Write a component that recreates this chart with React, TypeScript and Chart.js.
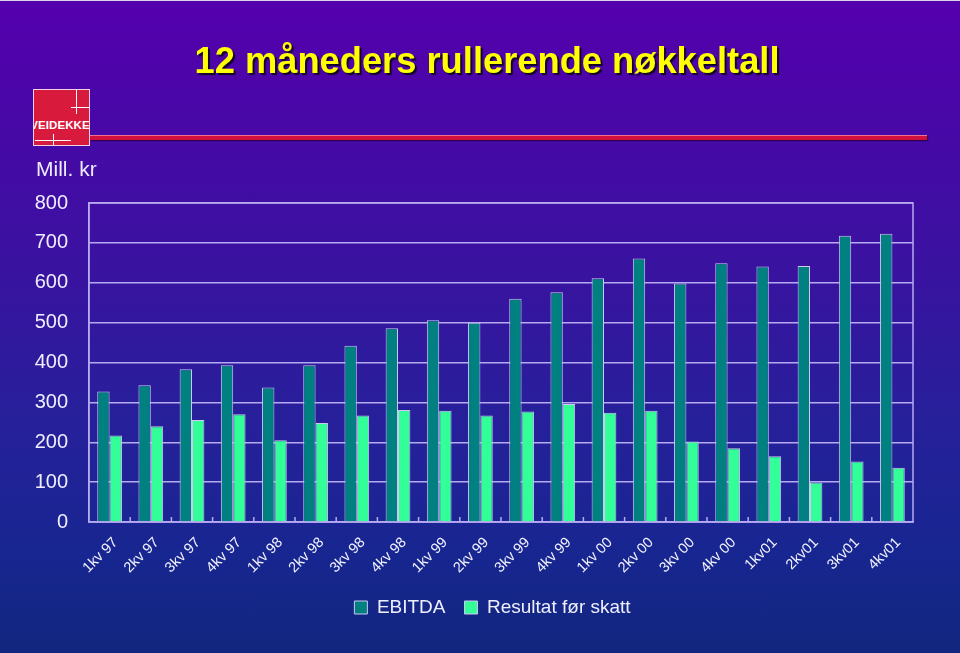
import React, { useEffect, useRef } from "react";
import { Chart, registerables } from "chart.js";

Chart.register(...registerables);

const categories = [
  "1kv 97", "2kv 97", "3kv 97", "4kv 97",
  "1kv 98", "2kv 98", "3kv 98", "4kv 98",
  "1kv 99", "2kv 99", "3kv 99", "4kv 99",
  "1kv 00", "2kv 00", "3kv 00", "4kv 00",
  "1kv01", "2kv01", "3kv01", "4kv01",
];
const ebitda = [327, 343, 383, 393, 337, 393, 442, 486, 506, 500, 560, 576, 611, 661, 598, 649, 641, 642, 718, 723];
const resultat = [217, 240, 256, 270, 205, 248, 267, 281, 279, 267, 277, 296, 274, 279, 202, 185, 165, 99, 152, 136];
const yTicks = [0, 100, 200, 300, 400, 500, 600, 700, 800];
const seriesNames = ["EBITDA", "Resultat før skatt"];

const FONT = 'Arial, "Liberation Sans", sans-serif';
const GRID = "#b6aaf0";

const framePlugin = {
  id: "frame",
  beforeDatasetsDraw(chart: any) {
    const { ctx, chartArea } = chart;
    const xs = chart.scales.x;
    ctx.save();
    ctx.strokeStyle = GRID;
    ctx.lineWidth = 1.5;
    ctx.strokeRect(chartArea.left, chartArea.top, chartArea.right - chartArea.left, chartArea.bottom - chartArea.top);
    const n = categories.length;
    for (let i = 1; i < n; i++) {
      const x = (xs.getPixelForValue(i - 1) + xs.getPixelForValue(i)) / 2;
      ctx.beginPath();
      ctx.moveTo(x, chartArea.bottom);
      ctx.lineTo(x, chartArea.bottom - 5);
      ctx.stroke();
    }
    ctx.restore();
  },
};

const legendShiftPlugin = {
  id: "legendShift",
  afterLayout(chart: any) {
    const lg = chart.legend;
    if (lg) {
      lg.left += 36;
      lg.right += 36;
    }
  },
};

export default function App() {
  const ref = useRef<HTMLCanvasElement | null>(null);
  useEffect(() => {
    document.body.style.margin = "0";
    const chart = new Chart(ref.current as HTMLCanvasElement, {
      type: "bar",
      data: {
        labels: categories,
        datasets: [
          {
            label: seriesNames[0],
            data: ebitda,
            backgroundColor: "#008080",
            borderColor: "#cfc6f2",
            borderWidth: 1,
            categoryPercentage: 0.6,
            barPercentage: 1,
          },
          {
            label: seriesNames[1],
            data: resultat,
            backgroundColor: "#33ff99",
            borderColor: "#cfc6f2",
            borderWidth: 1,
            categoryPercentage: 0.6,
            barPercentage: 1,
          },
        ],
      },
      options: {
        responsive: false,
        animation: false,
        layout: { padding: { left: 0, right: 47, top: 202, bottom: 27 } },
        plugins: {
          title: { display: false },
          tooltip: { enabled: false },
          legend: {
            position: "bottom",
            labels: {
              color: "#eef0ff",
              font: { family: FONT, size: 19 },
              boxWidth: 13,
              boxHeight: 13,
              padding: 19,
            },
          },
        },
        scales: {
          x: {
            grid: { display: false },
            border: { display: true, color: GRID, width: 1.5 },
            ticks: {
              color: "#f2f2ff",
              font: { family: FONT, size: 14.5 },
              maxRotation: 45,
              minRotation: 45,
              padding: 4,
              labelOffset: 6,
              autoSkip: false,
            },
            afterFit: (s: any) => {
              s.height = 57;
            },
          },
          y: {
            min: 0,
            max: 800,
            afterBuildTicks: (s: any) => {
              s.ticks = yTicks.map((v) => ({ value: v }));
            },
            grid: { color: GRID, lineWidth: 1.5, drawTicks: false },
            border: { display: true, color: GRID, width: 1.5 },
            ticks: {
              color: "#eeeeff",
              font: { family: FONT, size: 20 },
              padding: 21,
            },
            afterFit: (s: any) => {
              s.width = 89;
            },
          },
        },
      },
      plugins: [framePlugin, legendShiftPlugin],
    } as any);
    return () => chart.destroy();
  }, []);

  return (
    <div
      style={{
        position: "absolute",
        left: 0,
        top: 0,
        width: 960,
        height: 653,
        overflow: "hidden",
        background: "linear-gradient(180deg, #5500ad 0%, #4a06a8 15%, #3a12a0 40%, #26209a 65%, #172690 85%, #12267e 100%)",
        borderTop: "1px solid #d8d8e8",
        boxSizing: "border-box",
        fontFamily: FONT,
      }}
    >
      <canvas ref={ref} width={960} height={653} style={{ position: "absolute", left: 0, top: 0 }} />
      <div
        style={{
          position: "absolute",
          left: 0,
          top: 42,
          width: 974,
          textAlign: "center",
          fontSize: 36.3,
          lineHeight: "36px",
          fontWeight: "bold",
          color: "#ffff00",
          textShadow: "2px 2px 1px #120626",
          whiteSpace: "nowrap",
        }}
      >
        12 måneders rullerende nøkkeltall
      </div>
      <div
        style={{
          position: "absolute",
          left: 90,
          top: 134,
          width: 837,
          height: 4,
          background: "#d2103c",
          borderTop: "1px solid #f07090",
          boxShadow: "1px 1px 1px #2a0050",
        }}
      />
      <div
        style={{
          position: "absolute",
          left: 33,
          top: 88,
          width: 55,
          height: 55,
          background: "#d81a3c",
          border: "1px solid #f2d2e2",
          overflow: "hidden",
        }}
      >
        <div style={{ position: "absolute", left: 42, top: 0, width: 1, height: 24, background: "#fff" }} />
        <div style={{ position: "absolute", left: 37, top: 17, width: 18, height: 1, background: "#fff" }} />
        <div style={{ position: "absolute", left: 1, top: 50, width: 36, height: 1, background: "#fff" }} />
        <div style={{ position: "absolute", left: 19, top: 44, width: 1, height: 11, background: "#fff" }} />
        <div
          style={{
            position: "absolute",
            left: -4,
            top: 30,
            width: 60,
            textAlign: "center",
            fontSize: 11.5,
            lineHeight: "11px",
            fontWeight: "bold",
            color: "#ffffff",
            letterSpacing: 0.1,
          }}
        >
          VEIDEKKE
        </div>
      </div>
      <div
        style={{
          position: "absolute",
          left: 36,
          top: 157,
          fontSize: 21,
          lineHeight: "21px",
          color: "#ececff",
          whiteSpace: "nowrap",
        }}
      >
        Mill. kr
      </div>
    </div>
  );
}
